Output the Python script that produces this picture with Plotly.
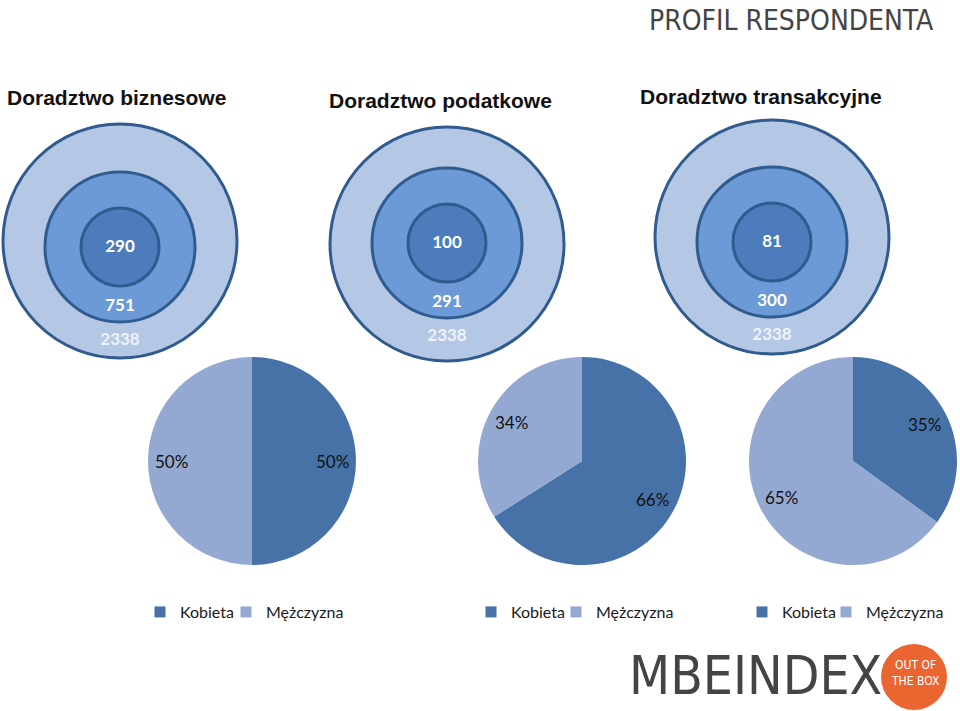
import math
import plotly.graph_objects as go

# ---------------- data ----------------
panel_titles = ["Doradztwo biznesowe", "Doradztwo podatkowe", "Doradztwo transakcyjne"]
inner_counts = [290, 100, 81]
middle_counts = [751, 291, 300]
total_counts = [2338, 2338, 2338]
gender_labels = ["Kobieta", "Mężczyzna"]
kobieta_pct = [50, 66, 35]
mezczyzna_pct = [50, 34, 65]
page_title = "PROFIL RESPONDENTA"
logo_text = "MBEINDEX"
badge_text = "OUT OF<br>THE BOX"

# ---------------- layout constants ----------------
W, H = 960, 711
circle_cx = [120, 447, 772]
outer_cy = [241, 244, 237]
inner_cy = [247, 243, 242]
R_OUT, R_MID, R_IN = 117, 75, 39
title_x = [5, 327, 638]
title_y = [97, 100, 96]
pie_cx = [252, 582, 853]
pie_cy = 461
pie_r = 104
label_r = 0.77 * pie_r
legend_text_x = [[180, 266], [511, 596], [782, 866]]
legend_y = 612

C_OUT = "#b4c7e4"
C_MID = "#6b9ad6"
C_IN = "#4c7cbc"
C_EDGE = "#2f5b8e"
C_DARK = "#4672a7"
C_LIGHT = "#94a9d1"
NARROW = "DejaVu Sans Condensed, Liberation Sans Narrow, sans-serif"

fig = go.Figure()
shapes = []
annotations = []

for i in range(3):
    cx = circle_cx[i]
    for cy, r, col in [(outer_cy[i], R_OUT, C_OUT), (inner_cy[i], R_MID, C_MID), (inner_cy[i], R_IN, C_IN)]:
        shapes.append(dict(type="circle", xref="x", yref="y", layer="below",
                           x0=cx - r, x1=cx + r, y0=cy - r, y1=cy + r,
                           fillcolor=col, line=dict(color=C_EDGE, width=3)))
    annotations.append(dict(text="<b>" + panel_titles[i] + "</b>", x=title_x[i], y=title_y[i],
                            xref="x", yref="y", xanchor="left", yanchor="middle", showarrow=False,
                            font=dict(family="Arial, Liberation Sans, sans-serif", size=21, color="#111111")))

# numbers inside the circles
fig.add_trace(go.Scatter(
    x=circle_cx + circle_cx, y=[c + 1 for c in inner_cy] + [c + 60 for c in inner_cy],
    text=[str(v) for v in inner_counts + middle_counts], mode="text",
    textfont=dict(family="Lato, sans-serif", size=17, color="white", weight="bold"),
    showlegend=False, hoverinfo="skip"))
fig.add_trace(go.Scatter(
    x=circle_cx, y=[c + 94 for c in inner_cy],
    text=[str(v) for v in total_counts], mode="text",
    textfont=dict(family="Lato, sans-serif", size=17, color="#eef2f9", weight="bold"),
    showlegend=False, hoverinfo="skip"))

# pies with percentage labels
for i in range(3):
    cx = pie_cx[i]
    vals = [kobieta_pct[i], mezczyzna_pct[i]]
    fig.add_trace(go.Pie(
        labels=gender_labels, values=vals,
        sort=False, direction="clockwise", rotation=0,
        marker=dict(colors=[C_DARK, C_LIGHT], line=dict(width=0)),
        textinfo="none", showlegend=False,
        domain=dict(x=[(cx - pie_r) / W, (cx + pie_r) / W],
                    y=[1 - (pie_cy + pie_r) / H, 1 - (pie_cy - pie_r) / H]),
        hoverinfo="label+percent"))
    total = sum(vals)
    cum = 0
    for v in vals:
        mid = (cum + v / 2) / total * 2 * math.pi
        cum += v
        annotations.append(dict(text=f"{round(100 * v / total)}%",
                                x=cx + label_r * math.sin(mid), y=pie_cy - label_r * math.cos(mid),
                                xref="x", yref="y", xanchor="center", yanchor="middle",
                                showarrow=False,
                                font=dict(family="Lato, sans-serif", size=17, color="#111111")))

# legends (one legend per entry so each can be placed freely)
legend_common = dict(orientation="h", xanchor="left", yanchor="middle",
                     font=dict(family="Lato, sans-serif", size=16, color="#1a1a1a"),
                     bgcolor="rgba(0,0,0,0)", itemclick=False, itemdoubleclick=False,
                     itemwidth=30)
leg = {}
n = 0
for i in range(3):
    for j, (name, col) in enumerate(zip(gender_labels, [C_DARK, C_LIGHT])):
        n += 1
        key = "legend" if n == 1 else f"legend{n}"
        leg[key] = dict(x=(legend_text_x[i][j] - 40) / W, y=1 - legend_y / H, **legend_common)
        fig.add_trace(go.Scatter(x=[None], y=[None], mode="markers", name=name,
                                 marker=dict(symbol="square", size=11, color=col),
                                 legend=key, showlegend=True, hoverinfo="skip"))

# header & logo
annotations.append(dict(text=page_title, x=936, y=20, xref="x", yref="y", xanchor="right",
                        yanchor="middle", showarrow=False,
                        font=dict(family=NARROW, size=28, color="#444444")))
annotations.append(dict(text=logo_text, x=627, y=675, xref="x", yref="y", xanchor="left",
                        yanchor="middle", showarrow=False,
                        font=dict(family=NARROW, size=53, color="#444444")))
shapes.append(dict(type="circle", xref="x", yref="y", layer="above",
                   x0=914 - 33, x1=914 + 33, y0=677 - 33, y1=677 + 33,
                   fillcolor="#eb6531", line=dict(width=0)))
annotations.append(dict(text=badge_text, x=915, y=673, xref="x", yref="y", xanchor="center",
                        yanchor="middle", showarrow=False,
                        font=dict(family=NARROW, size=12, color="white")))

fig.update_layout(
    width=W, height=H, margin=dict(l=0, r=0, t=0, b=0),
    paper_bgcolor="white", plot_bgcolor="white", showlegend=True,
    xaxis=dict(range=[0, W], visible=False, fixedrange=True),
    yaxis=dict(range=[H, 0], visible=False, fixedrange=True),
    shapes=shapes, annotations=annotations, **leg)

fig.write_html("out.html", config={"displayModeBar": False},
               post_script="document.body.style.margin='0';document.body.style.overflow='hidden';")
